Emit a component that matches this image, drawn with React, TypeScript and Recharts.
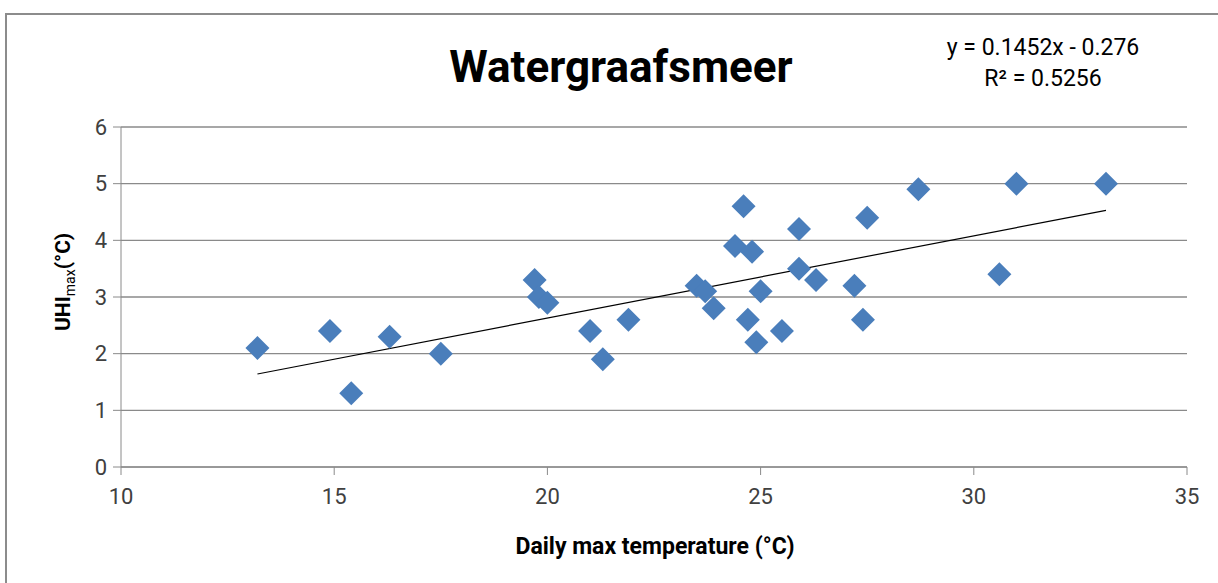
import { ScatterChart, Scatter, XAxis, YAxis, CartesianGrid, ReferenceLine } from "recharts"

// daily max temperature (°C) and matching UHI max (°C)
const tempMax = [13.2, 14.9, 15.4, 16.3, 17.5, 19.7, 19.8, 20.0, 21.0, 21.3, 21.9, 23.5, 23.7, 23.9, 24.4, 24.6, 24.7, 24.8, 24.9, 25.0, 25.5, 25.9, 25.9, 26.3, 27.2, 27.4, 27.5, 28.7, 30.6, 31.0, 33.1]
const uhiMax = [2.1, 2.4, 1.3, 2.3, 2.0, 3.3, 3.0, 2.9, 2.4, 1.9, 2.6, 3.2, 3.1, 2.8, 3.9, 4.6, 2.6, 3.8, 2.2, 3.1, 2.4, 4.2, 3.5, 3.3, 3.2, 2.6, 4.4, 4.9, 3.4, 5.0, 5.0]

const xTicks = [10, 15, 20, 25, 30, 35]
const yTicks = [0, 1, 2, 3, 4, 5, 6]

// linear trendline as printed on the chart
const trendSlope = 0.1452
const trendIntercept = -0.276

const points = tempMax.map((t, i) => ({ temp: t, uhi: uhiMax[i] }))
const xLo = Math.min(...tempMax)
const xHi = Math.max(...tempMax)
const trendSegment = [
    { x: xLo, y: trendSlope * xLo + trendIntercept },
    { x: xHi, y: trendSlope * xHi + trendIntercept },
]

const FONT = "Roboto, 'Open Sans', sans-serif"
const GRID = "#8a8a8a"

const Diamond = (props: any) => {
    const { cx, cy } = props
    const r = 12
    return (
        <polygon
            points={`${cx},${cy - r} ${cx + r},${cy} ${cx},${cy + r} ${cx - r},${cy}`}
            fill="#4A7EBB"
        />
    )
}

export default function App() {
    return (
        <div style={{ position: "absolute", left: 0, top: 0, width: 1218, height: 583, background: "#fff", overflow: "hidden", fontFamily: FONT }}>
            <div style={{ position: "absolute", left: 5, top: 13, width: 1240, height: 600, borderLeft: "2px solid #8c8c8c", borderTop: "2px solid #8c8c8c" }} />
            <ScatterChart width={1218} height={583} margin={{ top: 127, right: 31, bottom: 76, left: 61 }}>
                <CartesianGrid vertical={false} stroke={GRID} strokeWidth={1.3} />
                <XAxis
                    type="number"
                    dataKey="temp"
                    domain={[10, 35]}
                    ticks={xTicks}
                    stroke={GRID}
                    tickSize={8}
                    tickMargin={13}
                    height={40}
                    tick={{ fill: "#404040", fontSize: 22, fontFamily: FONT }}
                />
                <YAxis
                    type="number"
                    dataKey="uhi"
                    domain={[0, 6]}
                    ticks={yTicks}
                    stroke={GRID}
                    tickSize={8}
                    tickMargin={6}
                    width={60}
                    tick={{ fill: "#404040", fontSize: 22, fontFamily: FONT }}
                />
                <Scatter data={points} shape={<Diamond />} isAnimationActive={false} />
                <ReferenceLine segment={trendSegment} stroke="#000" strokeWidth={1.2} ifOverflow="visible" />
            </ScatterChart>
            <svg width={1218} height={583} style={{ position: "absolute", left: 0, top: 0, pointerEvents: "none" }}>
                <text x={621} y={82} textAnchor="middle" fontSize={44} fontWeight="bold" fontFamily={FONT} fill="#000">
                    Watergraafsmeer
                </text>
                <text x={1043} y={55} textAnchor="middle" fontSize={23} fontFamily={FONT} fill="#000">
                    y = 0.1452x - 0.276
                </text>
                <text x={1043} y={86} textAnchor="middle" fontSize={23} fontFamily={FONT} fill="#000">
                    R² = 0.5256
                </text>
                <text x={655} y={554} textAnchor="middle" fontSize={23} fontWeight="bold" fontFamily={FONT} fill="#000">
                    Daily max temperature (°C)
                </text>
                <text transform="translate(70, 282) rotate(-90)" textAnchor="middle" fontSize={21} fontWeight="bold" fontFamily={FONT} fill="#000">
                    UHI<tspan fontSize={14} fontWeight="normal" dy={5}>max</tspan>
                    <tspan dy={-5}>(°C)</tspan>
                </text>
            </svg>
        </div>
    )
}
